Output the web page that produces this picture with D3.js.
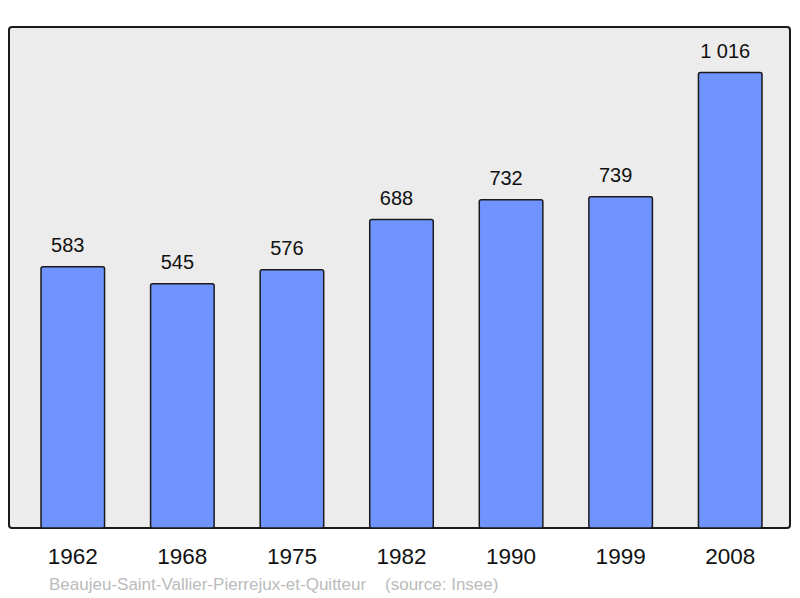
<!DOCTYPE html>
<html>
<head>
<meta charset="utf-8">
<script src="https://cdn.jsdelivr.net/npm/d3@7"></script>
<style>
  body { margin: 0; background: #fff; }
  text { font-family: "Liberation Sans", Arial, sans-serif; }
</style>
</head>
<body>
<div id="chart"></div>
<script>
// data
var years = ["1962", "1968", "1975", "1982", "1990", "1999", "2008"];
var population = [583, 545, 576, 688, 732, 739, 1016];
var valueLabels = ["583", "545", "576", "688", "732", "739", "1 016"];
var footer = "Beaujeu-Saint-Vallier-Pierrejux-et-Quitteur    (source: Insee)";

var width = 800, height = 598;
var plot = { left: 9, top: 27, right: 790, bottom: 528 };

var svg = d3.select("#chart").append("svg")
    .attr("width", width)
    .attr("height", height);

// background frame
svg.append("rect")
    .attr("x", plot.left)
    .attr("y", plot.top)
    .attr("width", plot.right - plot.left)
    .attr("height", plot.bottom - plot.top)
    .attr("rx", 3)
    .attr("fill", "#ececec")
    .attr("stroke", "#1a1a1a")
    .attr("stroke-width", 2);

// scales
var x = d3.scaleBand()
    .domain(years)
    .range([18, 785])
    .paddingInner(0.42)
    .paddingOuter(0.21);

var y = d3.scaleLinear()
    .domain([0, d3.max(population) * 1.1])
    .range([plot.bottom, plot.top]);

var data = years.map(function(d, i) {
    return { year: d, value: population[i], label: valueLabels[i] };
});

// bars
svg.selectAll(".bar")
    .data(data)
    .enter().append("rect")
    .attr("class", "bar")
    .attr("x", function(d) { return x(d.year); })
    .attr("y", function(d) { return y(d.value); })
    .attr("width", x.bandwidth())
    .attr("height", function(d) { return y(0) - y(d.value); })
    .attr("rx", 2)
    .attr("fill", "#7094ff")
    .attr("stroke", "#1a1a1a")
    .attr("stroke-width", 1.5);

// value labels
svg.selectAll(".val")
    .data(data)
    .enter().append("text")
    .attr("class", "val")
    .attr("x", function(d) { return x(d.year) + x.bandwidth() / 2 - 5; })
    .attr("y", function(d) { return y(d.value) - 15; })
    .attr("text-anchor", "middle")
    .attr("font-size", 20)
    .attr("fill", "#111")
    .text(function(d) { return d.label; });

// x axis labels
var xAxis = d3.axisBottom(x).tickSize(0).tickPadding(0);
var gx = svg.append("g")
    .attr("transform", "translate(0," + plot.bottom + ")")
    .call(xAxis);
gx.select(".domain").remove();
gx.selectAll("text")
    .attr("dy", null)
    .attr("y", 36)
    .attr("font-size", 22.5)
    .attr("font-family", "Liberation Sans, Arial, sans-serif")
    .attr("fill", "#111");

// footer
svg.append("text")
    .attr("x", 49)
    .attr("y", 590)
    .attr("font-size", 17)
    .attr("fill", "#bbbbbb")
    .attr("xml:space", "preserve")
    .style("white-space", "pre")
    .text(footer);
</script>
</body>
</html>
